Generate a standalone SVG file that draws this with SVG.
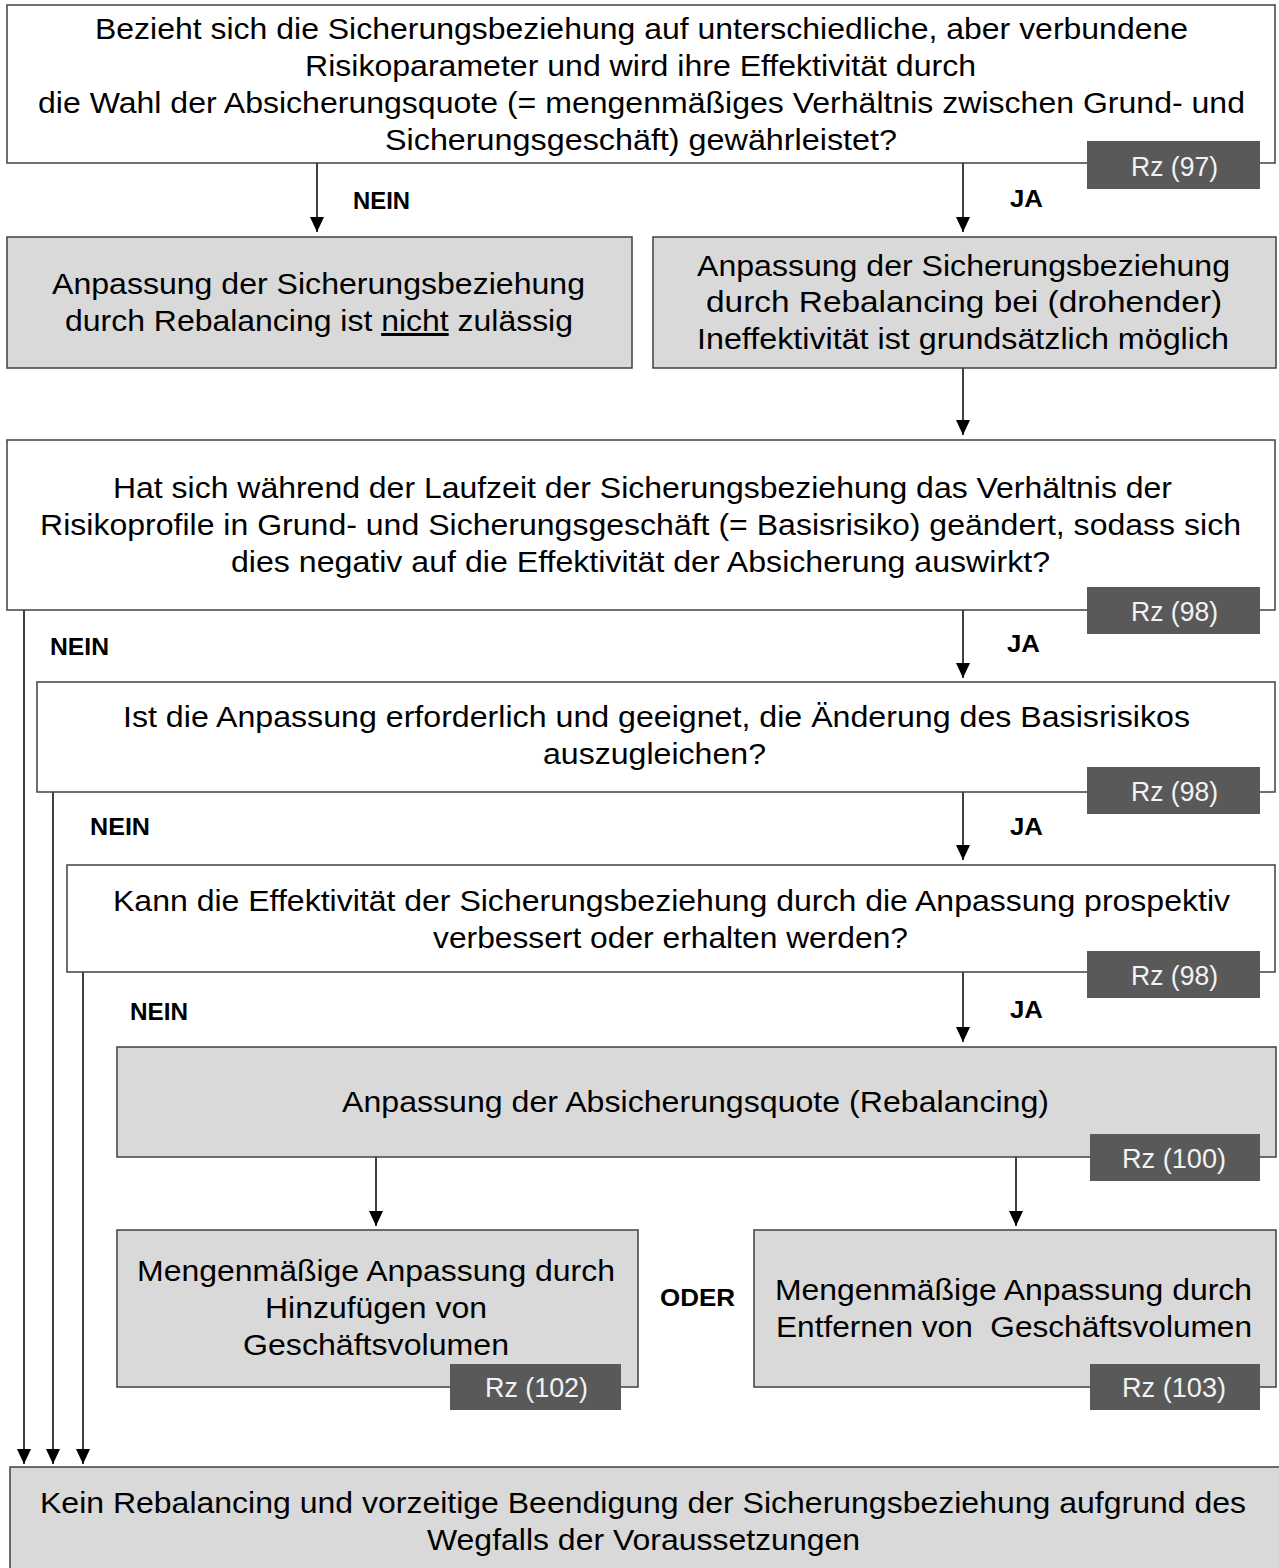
<svg xmlns="http://www.w3.org/2000/svg" width="1279" height="1568" viewBox="0 0 1279 1568">
<defs>
<marker id="ah" markerUnits="userSpaceOnUse" markerWidth="16" markerHeight="15" refX="15" refY="7" orient="auto">
<path d="M0,0 L15,7 L0,14 z" fill="#000"/>
</marker>
<style>
.box{stroke:#404040;stroke-width:1.5}
.w{fill:#fff}
.g{fill:#d9d9d9}
.rz{fill:#595959;stroke:none}
.t{font-family:"Liberation Sans",Arial,sans-serif;font-size:30px;fill:#000}
.rzt{font-family:"Liberation Sans",Arial,sans-serif;font-size:27px;fill:#f2f2f2}
.lbl{font-family:"Liberation Sans",Arial,sans-serif;font-size:23px;font-weight:bold;fill:#000}
.c{stroke:#000;stroke-width:1.5;fill:none;marker-end:url(#ah)}
</style>
</defs>
<rect width="1279" height="1568" fill="#fff"/>

<g id="connectors">
<line class="c" x1="317" y1="163" x2="317" y2="232"/>
<line class="c" x1="963" y1="163" x2="963" y2="232"/>
<line class="c" x1="963" y1="368" x2="963" y2="435"/>
<line class="c" x1="963" y1="610" x2="963" y2="678"/>
<line class="c" x1="963" y1="792" x2="963" y2="860"/>
<line class="c" x1="963" y1="972" x2="963" y2="1042"/>
<line class="c" x1="376" y1="1157" x2="376" y2="1226"/>
<line class="c" x1="1016" y1="1157" x2="1016" y2="1226"/>
<line class="c" x1="24" y1="610" x2="24" y2="1464"/>
<line class="c" x1="53" y1="792" x2="53" y2="1464"/>
<line class="c" x1="83" y1="972" x2="83" y2="1464"/>
<text class="lbl" x="353" y="209" textLength="57" lengthAdjust="spacingAndGlyphs">NEIN</text>
<text class="lbl" x="1010" y="207" textLength="33" lengthAdjust="spacingAndGlyphs">JA</text>
<text class="lbl" x="50" y="655" textLength="59" lengthAdjust="spacingAndGlyphs">NEIN</text>
<text class="lbl" x="1007" y="652" textLength="33" lengthAdjust="spacingAndGlyphs">JA</text>
<text class="lbl" x="90" y="835" textLength="60" lengthAdjust="spacingAndGlyphs">NEIN</text>
<text class="lbl" x="1010" y="835" textLength="33" lengthAdjust="spacingAndGlyphs">JA</text>
<text class="lbl" x="130" y="1020" textLength="58" lengthAdjust="spacingAndGlyphs">NEIN</text>
<text class="lbl" x="1010" y="1018" textLength="33" lengthAdjust="spacingAndGlyphs">JA</text>
</g>

<g id="n1">
<rect class="box w" x="7" y="5" width="1268" height="158"/>
<text class="t" x="95" y="39" textLength="1093" lengthAdjust="spacingAndGlyphs">Bezieht sich die Sicherungsbeziehung auf unterschiedliche, aber verbundene</text>
<text class="t" x="305" y="76" textLength="671" lengthAdjust="spacingAndGlyphs">Risikoparameter und wird ihre Effektivität durch</text>
<text class="t" x="38" y="113" textLength="1207" lengthAdjust="spacingAndGlyphs">die Wahl der Absicherungsquote (= mengenmäßiges Verhältnis zwischen Grund- und</text>
<text class="t" x="385" y="150" textLength="512" lengthAdjust="spacingAndGlyphs">Sicherungsgeschäft) gewährleistet?</text>
<rect class="rz" x="1087" y="141" width="173" height="48"/>
<text class="rzt" x="1131" y="176" textLength="87" lengthAdjust="spacingAndGlyphs">Rz (97)</text>
</g>

<g id="n2">
<rect class="box g" x="7" y="237" width="625" height="131"/>
<text class="t" x="52" y="294" textLength="533" lengthAdjust="spacingAndGlyphs">Anpassung der Sicherungsbeziehung</text>
<text class="t" x="65" y="331" textLength="508" lengthAdjust="spacingAndGlyphs">durch Rebalancing ist <tspan text-decoration="underline">nicht</tspan> zulässig</text>
</g>

<g id="n3">
<rect class="box g" x="653" y="237" width="623" height="131"/>
<text class="t" x="697" y="276" textLength="533" lengthAdjust="spacingAndGlyphs">Anpassung der Sicherungsbeziehung</text>
<text class="t" x="706" y="312" textLength="516" lengthAdjust="spacingAndGlyphs">durch Rebalancing bei (drohender)</text>
<text class="t" x="697" y="349" textLength="532" lengthAdjust="spacingAndGlyphs">Ineffektivität ist grundsätzlich möglich</text>
</g>

<g id="n4">
<rect class="box w" x="7" y="440" width="1268" height="170"/>
<text class="t" x="113" y="498" textLength="1059" lengthAdjust="spacingAndGlyphs">Hat sich während der Laufzeit der Sicherungsbeziehung das Verhältnis der</text>
<text class="t" x="40" y="535" textLength="1201" lengthAdjust="spacingAndGlyphs">Risikoprofile in Grund- und Sicherungsgeschäft (= Basisrisiko) geändert, sodass sich</text>
<text class="t" x="231" y="572" textLength="819" lengthAdjust="spacingAndGlyphs">dies negativ auf die Effektivität der Absicherung auswirkt?</text>
<rect class="rz" x="1087" y="587" width="173" height="47"/>
<text class="rzt" x="1131" y="621" textLength="87" lengthAdjust="spacingAndGlyphs">Rz (98)</text>
</g>

<g id="n5">
<rect class="box w" x="37" y="682" width="1238" height="110"/>
<text class="t" x="123" y="727" textLength="1067" lengthAdjust="spacingAndGlyphs">Ist die Anpassung erforderlich und geeignet, die Änderung des Basisrisikos</text>
<text class="t" x="543" y="764" textLength="223" lengthAdjust="spacingAndGlyphs">auszugleichen?</text>
<rect class="rz" x="1087" y="767" width="173" height="47"/>
<text class="rzt" x="1131" y="801" textLength="87" lengthAdjust="spacingAndGlyphs">Rz (98)</text>
</g>

<g id="n6">
<rect class="box w" x="67" y="865" width="1208" height="107"/>
<text class="t" x="113" y="911" textLength="1117" lengthAdjust="spacingAndGlyphs">Kann die Effektivität der Sicherungsbeziehung durch die Anpassung prospektiv</text>
<text class="t" x="433" y="948" textLength="475" lengthAdjust="spacingAndGlyphs">verbessert oder erhalten werden?</text>
<rect class="rz" x="1087" y="951" width="173" height="47"/>
<text class="rzt" x="1131" y="985" textLength="87" lengthAdjust="spacingAndGlyphs">Rz (98)</text>
</g>

<g id="n7">
<rect class="box g" x="117" y="1047" width="1159" height="110"/>
<text class="t" x="342" y="1112" textLength="707" lengthAdjust="spacingAndGlyphs">Anpassung der Absicherungsquote (Rebalancing)</text>
<rect class="rz" x="1090" y="1134" width="170" height="47"/>
<text class="rzt" x="1122" y="1168" textLength="104" lengthAdjust="spacingAndGlyphs">Rz (100)</text>
</g>

<g id="n8">
<rect class="box g" x="117" y="1230" width="521" height="157"/>
<text class="t" x="137" y="1281" textLength="478" lengthAdjust="spacingAndGlyphs">Mengenmäßige Anpassung durch</text>
<text class="t" x="265" y="1318" textLength="222" lengthAdjust="spacingAndGlyphs">Hinzufügen von</text>
<text class="t" x="243" y="1355" textLength="266" lengthAdjust="spacingAndGlyphs">Geschäftsvolumen</text>
<rect class="rz" x="450" y="1364" width="171" height="46"/>
<text class="rzt" x="485" y="1397" textLength="103" lengthAdjust="spacingAndGlyphs">Rz (102)</text>
</g>

<g id="oder">
<text class="lbl" x="660" y="1306" textLength="75" lengthAdjust="spacingAndGlyphs">ODER</text>
</g>

<g id="n9">
<rect class="box g" x="754" y="1230" width="522" height="157"/>
<text class="t" x="775" y="1300" textLength="477" lengthAdjust="spacingAndGlyphs">Mengenmäßige Anpassung durch</text>
<text class="t" x="776" y="1337" textLength="476" lengthAdjust="spacingAndGlyphs" xml:space="preserve">Entfernen von  Geschäftsvolumen</text>
<rect class="rz" x="1090" y="1364" width="170" height="46"/>
<text class="rzt" x="1122" y="1397" textLength="104" lengthAdjust="spacingAndGlyphs">Rz (103)</text>
</g>

<g id="n10">
<rect class="box g" x="10" y="1467" width="1275" height="110"/>
<text class="t" x="40" y="1513" textLength="1206" lengthAdjust="spacingAndGlyphs">Kein Rebalancing und vorzeitige Beendigung der Sicherungsbeziehung aufgrund des</text>
<text class="t" x="427" y="1550" textLength="433" lengthAdjust="spacingAndGlyphs">Wegfalls der Voraussetzungen</text>
</g>
</svg>
